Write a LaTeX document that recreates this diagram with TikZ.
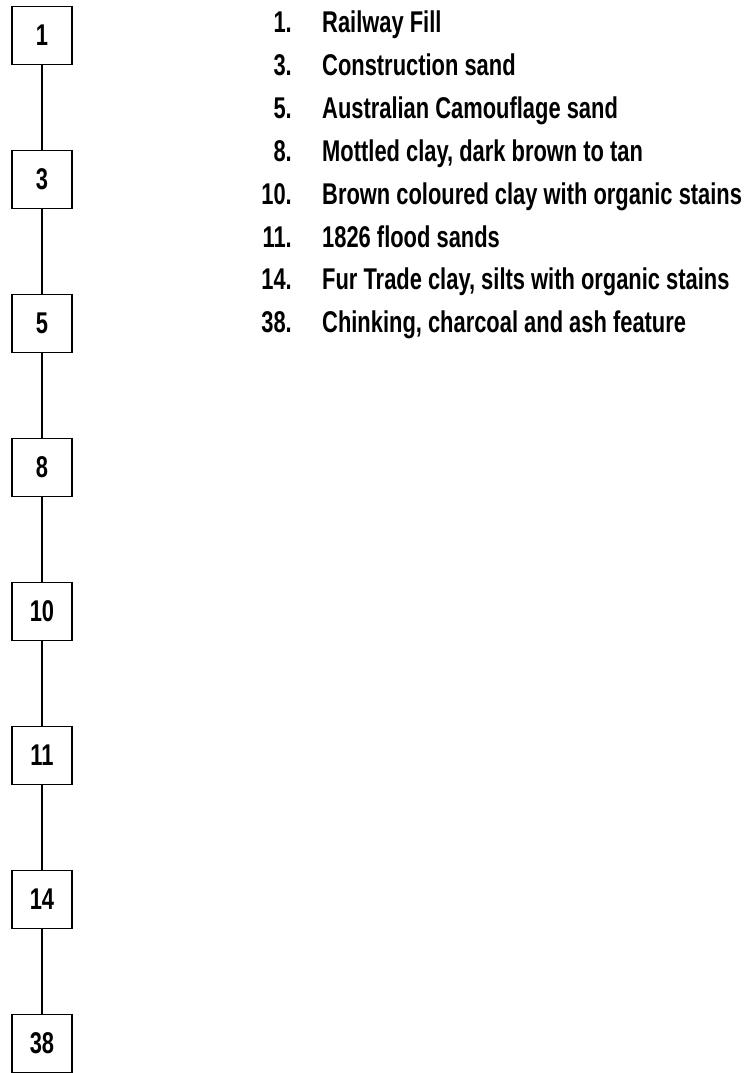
\documentclass[tikz,border=0pt]{standalone}
\usepackage{fontspec}
\setmainfont{Liberation Sans}[FakeStretch=0.73]
\begin{document}
\begin{tikzpicture}[x=1pt,y=-1pt,
  layer/.style={draw, line width=1.7pt, minimum width=60pt, minimum height=58pt, inner sep=0pt, font=\fontsize{30}{30}\selectfont\bfseries},
  link/.style={line width=1.3pt},
  num/.style={anchor=base east, inner sep=0pt, font=\fontsize{30}{30}\selectfont\bfseries},
  entry/.style={anchor=base west, inner sep=0pt, font=\fontsize{30}{30}\selectfont\bfseries}]
  \useasboundingbox (0,0) rectangle (749,1073);

  \node[layer] (b1) at (42,35.5) {1};
  \node[layer] (b3) at (42,179.5) {3};
  \node[layer] (b5) at (42,323.5) {5};
  \node[layer] (b8) at (42,467.5) {8};
  \node[layer] (b10) at (42,611.5) {10};
  \node[layer] (b11) at (42,755.5) {11};
  \node[layer] (b14) at (42,899.5) {14};
  \node[layer] (b38) at (42,1043.5) {38};

  \draw[link] (b1) -- (b3);
  \draw[link] (b3) -- (b5);
  \draw[link] (b5) -- (b8);
  \draw[link] (b8) -- (b10);
  \draw[link] (b10) -- (b11);
  \draw[link] (b11) -- (b14);
  \draw[link] (b14) -- (b38);

  \node[num] (n1) at (292,33) {1.};
  \node[entry] (t1) at (322,33) {Railway Fill};
  \node[num] (n3) at (292,75.8) {3.};
  \node[entry] (t3) at (322,75.8) {Construction sand};
  \node[num] (n5) at (292,118.6) {5.};
  \node[entry] (t5) at (322,118.6) {Australian Camouflage sand};
  \node[num] (n8) at (292,161.4) {8.};
  \node[entry] (t8) at (322,161.4) {Mottled clay, dark brown to tan};
  \node[num] (n10) at (292,204.2) {10.};
  \node[entry] (t10) at (322,204.2) {Brown coloured clay with organic stains};
  \node[num] (n11) at (292,247) {11.};
  \node[entry] (t11) at (322,247) {1826 flood sands};
  \node[num] (n14) at (292,289.8) {14.};
  \node[entry] (t14) at (322,289.8) {Fur Trade clay, silts with organic stains};
  \node[num] (n38) at (292,332.6) {38.};
  \node[entry] (t38) at (322,332.6) {Chinking, charcoal and ash feature};
\end{tikzpicture}
\end{document}
